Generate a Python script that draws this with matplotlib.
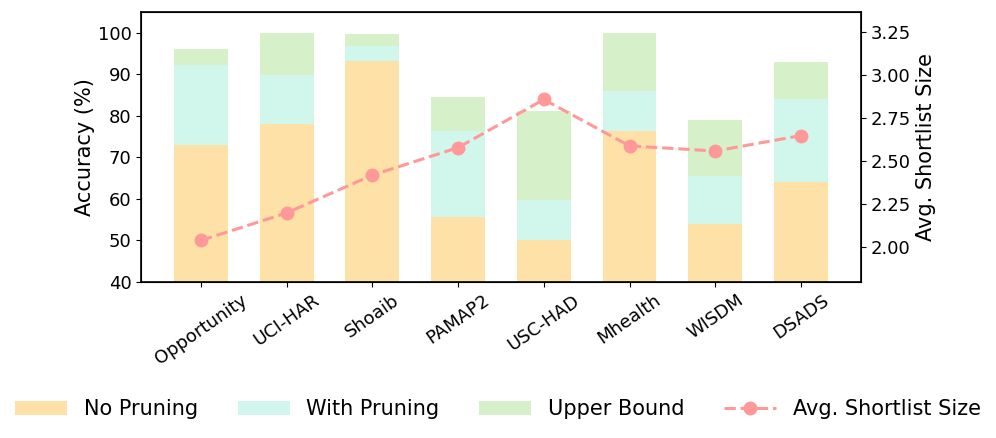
import matplotlib
matplotlib.use("Agg")
import matplotlib.pyplot as plt
import numpy as np

datasets = ["Opportunity", "UCI-HAR", "Shoaib", "PAMAP2", "USC-HAD", "Mhealth", "WISDM", "DSADS"]
no_pruning = [72.8, 78.0, 93.1, 55.5, 50.1, 76.4, 53.9, 63.9]
with_pruning = [92.2, 89.7, 96.8, 76.4, 59.7, 86.0, 65.4, 84.0]
upper_bound = [96.1, 99.8, 99.7, 84.4, 81.0, 99.8, 79.0, 92.8]
shortlist_size = [2.04, 2.20, 2.42, 2.58, 2.86, 2.59, 2.56, 2.65]

x = np.arange(len(datasets))
width = 0.63

fig, ax = plt.subplots(figsize=(9.96, 4.38), dpi=100)
fig.subplots_adjust(left=0.142, right=0.864, top=0.973, bottom=0.357)

b1 = ax.bar(x, upper_bound, width, color='#d6f1c9', label='Upper Bound')
b2 = ax.bar(x, with_pruning, width, color='#d1f7ec', label='With Pruning')
b3 = ax.bar(x, no_pruning, width, color='#fee1a6', label='No Pruning')
ax.set_ylim(40, 105)
ax.set_ylabel('Accuracy (%)', fontsize=15, labelpad=2)
ax.set_xticks(x)
ax.set_xticklabels(datasets, rotation=35, ha='center', fontsize=13)
ax.tick_params(axis='y', labelsize=13)

ax2 = ax.twinx()
l1, = ax2.plot(x, shortlist_size, '--o', color='#ff9999', linewidth=2.2, markersize=9,
               label='Avg. Shortlist Size')
ax2.set_ylim(1.8, 3.37)
ax2.set_yticks([2.00, 2.25, 2.50, 2.75, 3.00, 3.25])
ax2.set_ylabel('Avg. Shortlist Size', fontsize=15)
ax2.tick_params(axis='y', labelsize=13)

for spine in ax2.spines.values():
    spine.set_linewidth(1.2)

fig.legend([b3, b2, b1, l1], ['No Pruning', 'With Pruning', 'Upper Bound', 'Avg. Shortlist Size'],
           loc='lower center', bbox_to_anchor=(0.5, 0.0), ncol=4, frameon=False,
           fontsize=15, handlelength=2.5, columnspacing=1.9)

fig.savefig('out.png')
